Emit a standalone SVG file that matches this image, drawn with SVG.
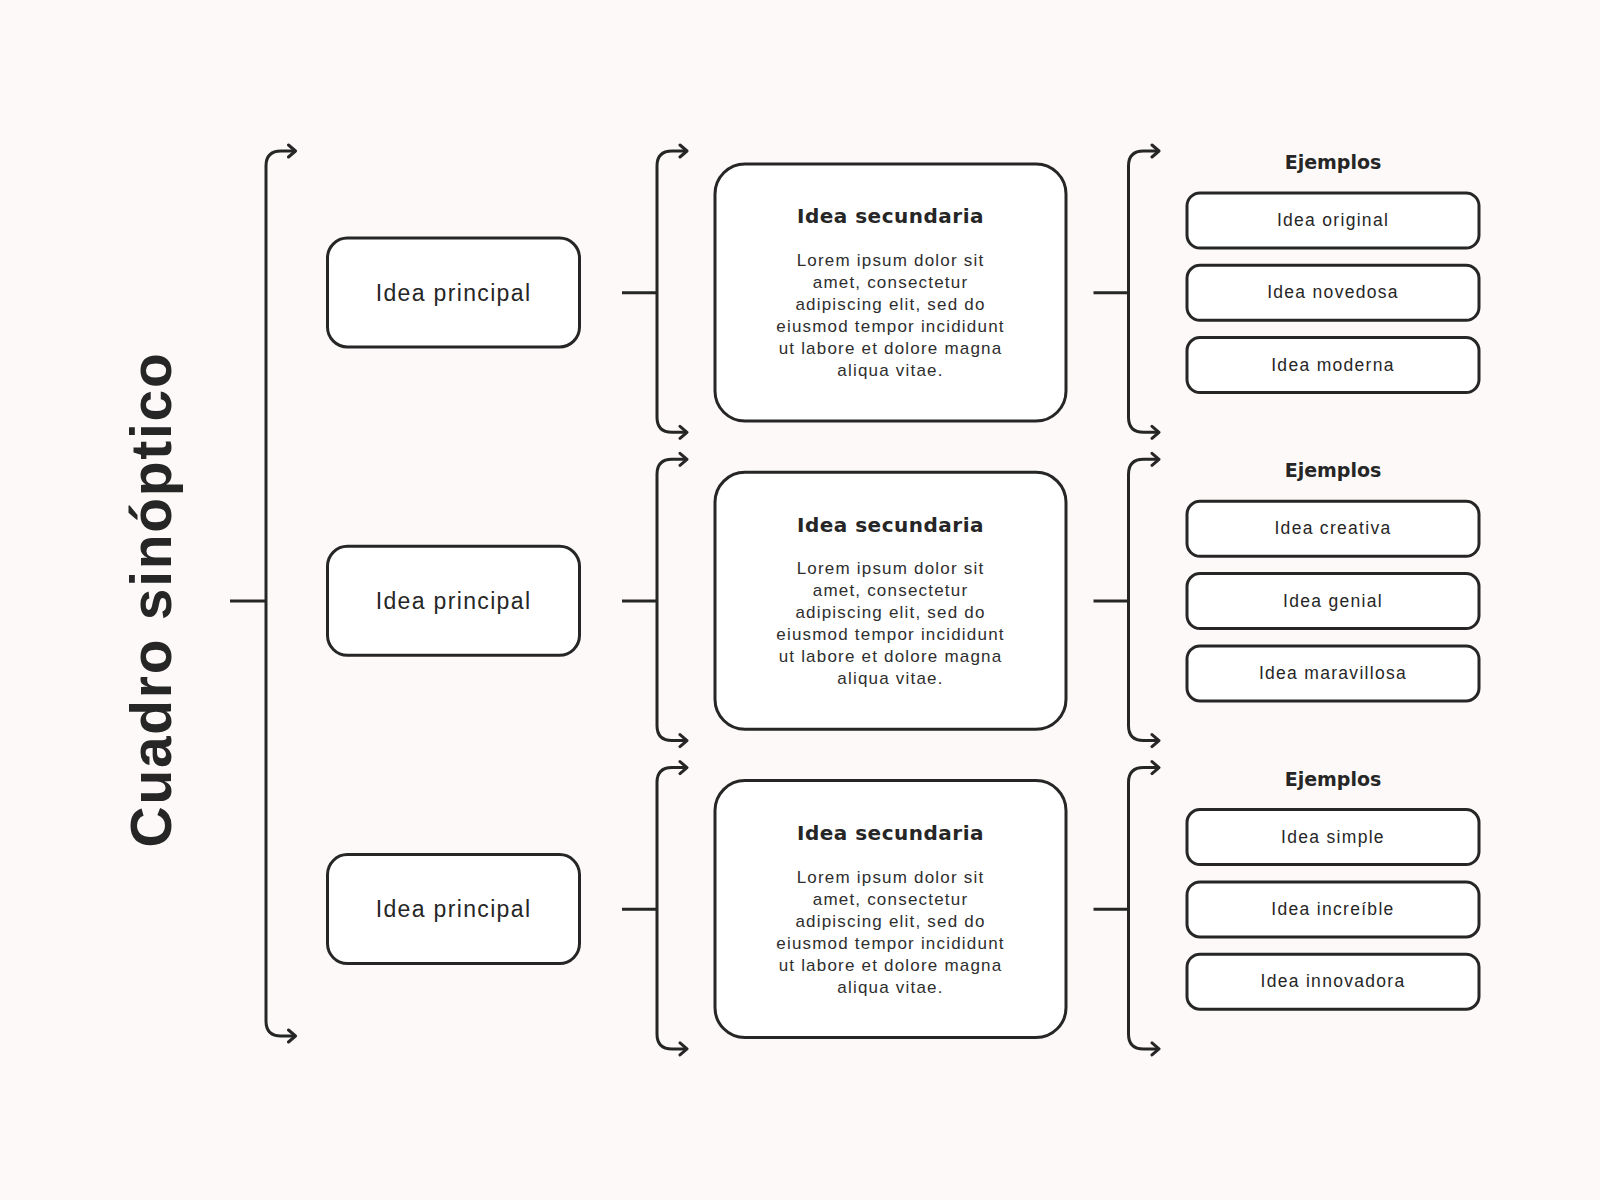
<svg xmlns="http://www.w3.org/2000/svg" width="1600" height="1200" viewBox="0 0 1600 1200">
  <defs>
    <marker id="arr" markerUnits="userSpaceOnUse" markerWidth="12" markerHeight="16" viewBox="-2 -2 12 16" refX="7" refY="6" orient="auto-start-reverse">
      <path d="M0,0 L7,6 L0,12" fill="none" stroke="#262626" stroke-width="3" stroke-linecap="round" stroke-linejoin="round"/>
    </marker>
    <style>
      .bg { fill: #fcf9f8; }
      .box { fill: #ffffff; stroke: #262626; stroke-width: 3; }
      .br { fill: none; stroke: #262626; stroke-width: 3; marker-start: url(#arr); marker-end: url(#arr); }
      .stub { fill: none; stroke: #262626; stroke-width: 3; }
      text { fill: #262626; text-anchor: middle; font-family: "Liberation Sans", Arial, sans-serif; }
      .title { font-weight: bold; font-size: 57px; letter-spacing: 1.7px; }
      .t-main { font-size: 23px; letter-spacing: 1.35px; }
      .t-ex { font-size: 17.5px; letter-spacing: 1.3px; }
      .t-body { font-size: 17px; letter-spacing: 1.2px; fill: #2e2e2e; }
      .t-head { font-family: "DejaVu Sans", "Liberation Sans", sans-serif; font-weight: bold; font-size: 20px; letter-spacing: 0.5px; }
      .t-ej { font-family: "DejaVu Sans", "Liberation Sans", sans-serif; font-weight: bold; font-size: 19px; }
    </style>
  </defs>

  <rect class="bg" x="0" y="0" width="1600" height="1200"/>

  <g id="title">
    <text class="title" transform="translate(170.7,599.5) rotate(-90)">Cuadro sinóptico</text>
  </g>

  <g id="connectors">
    <!-- main bracket -->
    <line class="stub" x1="230" y1="601" x2="266" y2="601"/>
    <path class="br" d="M295.5,151 H281 Q266,151 266,166 V1021 Q266,1036 281,1036 H295.5"/>

    <!-- column 2 brackets -->
    <line class="stub" x1="622" y1="292.7" x2="657" y2="292.7"/>
    <path class="br" d="M687,151 H672 Q657,151 657,166 V417.3 Q657,432.3 672,432.3 H687"/>
    <line class="stub" x1="622" y1="601" x2="657" y2="601"/>
    <path class="br" d="M687,459.3 H672 Q657,459.3 657,474.3 V725.6 Q657,740.6 672,740.6 H687"/>
    <line class="stub" x1="622" y1="909.3" x2="657" y2="909.3"/>
    <path class="br" d="M687,767.6 H672 Q657,767.6 657,782.6 V1033.9 Q657,1048.9 672,1048.9 H687"/>

    <!-- column 3 brackets -->
    <line class="stub" x1="1093.5" y1="292.7" x2="1128.5" y2="292.7"/>
    <path class="br" d="M1159,151 H1143.5 Q1128.5,151 1128.5,166 V417.3 Q1128.5,432.3 1143.5,432.3 H1159"/>
    <line class="stub" x1="1093.5" y1="601" x2="1128.5" y2="601"/>
    <path class="br" d="M1159,459.3 H1143.5 Q1128.5,459.3 1128.5,474.3 V725.6 Q1128.5,740.6 1143.5,740.6 H1159"/>
    <line class="stub" x1="1093.5" y1="909.3" x2="1128.5" y2="909.3"/>
    <path class="br" d="M1159,767.6 H1143.5 Q1128.5,767.6 1128.5,782.6 V1033.9 Q1128.5,1048.9 1143.5,1048.9 H1159"/>
  </g>

  <!-- primary ideas -->
  <g id="principal-1">
    <rect class="box" x="327.5" y="238" width="252" height="109" rx="20"/>
    <text class="t-main" x="453.5" y="300.5">Idea principal</text>
  </g>
  <g id="principal-2">
    <rect class="box" x="327.5" y="546.3" width="252" height="109" rx="20"/>
    <text class="t-main" x="453.5" y="608.8">Idea principal</text>
  </g>
  <g id="principal-3">
    <rect class="box" x="327.5" y="854.6" width="252" height="109" rx="20"/>
    <text class="t-main" x="453.5" y="917.1">Idea principal</text>
  </g>

  <!-- secondary ideas -->
  <g id="secundaria-1">
    <rect class="box" x="715" y="164" width="351" height="257" rx="30"/>
    <text class="t-head" x="890.5" y="223.3">Idea secundaria</text>
    <text class="t-body" x="890.5" y="266">Lorem ipsum dolor sit</text>
    <text class="t-body" x="890.5" y="288">amet, consectetur</text>
    <text class="t-body" x="890.5" y="310">adipiscing elit, sed do</text>
    <text class="t-body" x="890.5" y="332">eiusmod tempor incididunt</text>
    <text class="t-body" x="890.5" y="354">ut labore et dolore magna</text>
    <text class="t-body" x="890.5" y="376">aliqua vitae.</text>
  </g>
  <g id="secundaria-2">
    <rect class="box" x="715" y="472.3" width="351" height="257" rx="30"/>
    <text class="t-head" x="890.5" y="531.6">Idea secundaria</text>
    <text class="t-body" x="890.5" y="574.3">Lorem ipsum dolor sit</text>
    <text class="t-body" x="890.5" y="596.3">amet, consectetur</text>
    <text class="t-body" x="890.5" y="618.3">adipiscing elit, sed do</text>
    <text class="t-body" x="890.5" y="640.3">eiusmod tempor incididunt</text>
    <text class="t-body" x="890.5" y="662.3">ut labore et dolore magna</text>
    <text class="t-body" x="890.5" y="684.3">aliqua vitae.</text>
  </g>
  <g id="secundaria-3">
    <rect class="box" x="715" y="780.6" width="351" height="257" rx="30"/>
    <text class="t-head" x="890.5" y="839.9">Idea secundaria</text>
    <text class="t-body" x="890.5" y="882.6">Lorem ipsum dolor sit</text>
    <text class="t-body" x="890.5" y="904.6">amet, consectetur</text>
    <text class="t-body" x="890.5" y="926.6">adipiscing elit, sed do</text>
    <text class="t-body" x="890.5" y="948.6">eiusmod tempor incididunt</text>
    <text class="t-body" x="890.5" y="970.6">ut labore et dolore magna</text>
    <text class="t-body" x="890.5" y="992.6">aliqua vitae.</text>
  </g>

  <!-- examples -->
  <g id="ejemplos-1">
    <text class="t-ej" x="1333" y="168.5">Ejemplos</text>
  </g>
  <g id="ej-original">
    <rect class="box" x="1187" y="193" width="292" height="55" rx="13"/>
    <text class="t-ex" x="1333" y="226">Idea original</text>
  </g>
  <g id="ej-novedosa">
    <rect class="box" x="1187" y="265.3" width="292" height="55" rx="13"/>
    <text class="t-ex" x="1333" y="298.3">Idea novedosa</text>
  </g>
  <g id="ej-moderna">
    <rect class="box" x="1187" y="337.6" width="292" height="55" rx="13"/>
    <text class="t-ex" x="1333" y="370.6">Idea moderna</text>
  </g>

  <g id="ejemplos-2">
    <text class="t-ej" x="1333" y="476.8">Ejemplos</text>
  </g>
  <g id="ej-creativa">
    <rect class="box" x="1187" y="501.3" width="292" height="55" rx="13"/>
    <text class="t-ex" x="1333" y="534.3">Idea creativa</text>
  </g>
  <g id="ej-genial">
    <rect class="box" x="1187" y="573.6" width="292" height="55" rx="13"/>
    <text class="t-ex" x="1333" y="606.6">Idea genial</text>
  </g>
  <g id="ej-maravillosa">
    <rect class="box" x="1187" y="645.9" width="292" height="55" rx="13"/>
    <text class="t-ex" x="1333" y="678.9">Idea maravillosa</text>
  </g>

  <g id="ejemplos-3">
    <text class="t-ej" x="1333" y="786">Ejemplos</text>
  </g>
  <g id="ej-simple">
    <rect class="box" x="1187" y="809.6" width="292" height="55" rx="13"/>
    <text class="t-ex" x="1333" y="842.6">Idea simple</text>
  </g>
  <g id="ej-increible">
    <rect class="box" x="1187" y="881.9" width="292" height="55" rx="13"/>
    <text class="t-ex" x="1333" y="914.9">Idea increíble</text>
  </g>
  <g id="ej-innovadora">
    <rect class="box" x="1187" y="954.2" width="292" height="55" rx="13"/>
    <text class="t-ex" x="1333" y="987.2">Idea innovadora</text>
  </g>
</svg>
